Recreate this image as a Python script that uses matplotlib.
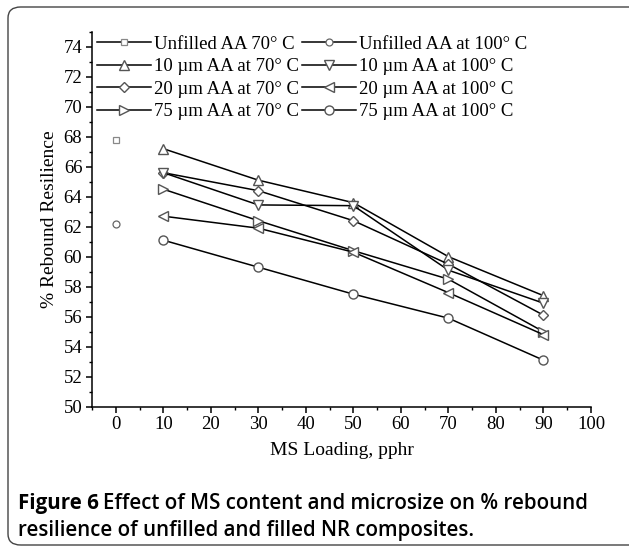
import matplotlib
matplotlib.use("Agg")
import matplotlib.pyplot as plt
from matplotlib.patches import FancyBboxPatch
from matplotlib.ticker import MultipleLocator

# MS loading (pphr)
loading = [10, 30, 50, 70, 90]
unfilled_x = [0]

# % rebound resilience
unfilled_70 = [67.8]
unfilled_100 = [62.2]
um10_70 = [67.2, 65.1, 63.6, 60.0, 57.4]
um10_100 = [65.6, 63.45, 63.4, 59.1, 56.9]
um20_70 = [65.6, 64.4, 62.4, 59.5, 56.1]
um20_100 = [62.7, 61.9, 60.3, 57.6, 54.8]
um75_70 = [64.5, 62.4, 60.4, 58.5, 55.0]
um75_100 = [61.1, 59.3, 57.5, 55.9, 53.1]

labels_70 = ["Unfilled AA 70\u00b0 C", "10 \u00b5m AA at 70\u00b0 C",
             "20 \u00b5m AA at 70\u00b0 C", "75 \u00b5m AA at 70\u00b0 C"]
labels_100 = ["Unfilled AA at 100\u00b0 C", "10 \u00b5m AA at 100\u00b0 C",
              "20 \u00b5m AA at 100\u00b0 C", "75 \u00b5m AA at 100\u00b0 C"]

plt.rcParams["font.family"] = ["Liberation Serif", "DejaVu Serif"]

fig = plt.figure(figsize=(6.29, 5.53), dpi=100)
ax = fig.add_axes([0.1463, 0.2646, 0.7933, 0.6781])

edge = "#555555"
common = dict(color="black", lw=1.1, mfc="white", mec=edge, mew=1.0, ms=6.5)

# column-first order for the 2-column legend
ax.plot(unfilled_x, unfilled_70, marker="s", label=labels_70[0],
        color="black", lw=1.1, mfc="white", mec="#888888", mew=0.9, ms=4.5)
ax.plot(loading, um10_70, marker="^", label=labels_70[1], **common)
ax.plot(loading, um20_70, marker="D", label=labels_70[2], **{**common, "ms": 5.5})
ax.plot(loading, um75_70, marker=">", label=labels_70[3], **common)
ax.plot(unfilled_x, unfilled_100, marker="o", label=labels_100[0],
        color="black", lw=1.1, mfc="white", mec="#666666", mew=0.9, ms=5)
ax.plot(loading, um10_100, marker="v", label=labels_100[1], **common)
ax.plot(loading, um20_100, marker="<", label=labels_100[2], **common)
ax.plot(loading, um75_100, marker="o", label=labels_100[3], **common)

ax.set_xlim(-5, 100)
ax.set_ylim(50, 75)
ax.xaxis.set_major_locator(MultipleLocator(10))
ax.xaxis.set_minor_locator(MultipleLocator(5))
ax.yaxis.set_major_locator(MultipleLocator(2))
ax.yaxis.set_minor_locator(MultipleLocator(1))
ax.spines["top"].set_visible(False)
ax.spines["right"].set_visible(False)
for s in ("left", "bottom"):
    ax.spines[s].set_linewidth(1.1)
ax.tick_params(which="major", direction="out", length=4.5, width=1.1,
               labelsize=13.5, pad=2.5)
ax.tick_params(which="minor", direction="out", length=2.5, width=1.0)

ax.set_xlabel("MS Loading, pphr", fontsize=14, labelpad=6)
ax.set_ylabel("% Rebound Resilience", fontsize=14, labelpad=4)

leg = ax.legend(ncol=2, loc="upper left", bbox_to_anchor=(0.01, 0.99),
                frameon=False, fontsize=13.5, handlelength=2.9,
                handletextpad=0.15, columnspacing=0.15, labelspacing=0.29,
                borderpad=0, borderaxespad=0)

# rounded frame around the figure panel
frame = FancyBboxPatch((8 / 629, 8 / 553), 640 / 629, 538 / 553,
                       boxstyle="round,pad=0,rounding_size=0.02",
                       transform=fig.transFigure, fill=False,
                       edgecolor="#444444", lw=1.0, clip_on=False)
fig.patches.append(frame)

cap_font = ["Open Sans", "DejaVu Sans"]
cap_size = 14.8
t1 = fig.text(18 / 629, 1 - 509 / 553, "Figure 6", family=cap_font,
              fontsize=cap_size, fontweight="bold", va="baseline", ha="left")
fig.canvas.draw()
bb = t1.get_window_extent()
fig.text(bb.x1 / 629 + 0.007, 1 - 509 / 553,
         "Effect of MS content and microsize on % rebound",
         family=cap_font, fontsize=cap_size, fontweight="semibold",
         va="baseline", ha="left")
fig.text(18 / 629, 1 - 536 / 553,
         "resilience of unfilled and filled NR composites.",
         family=cap_font, fontsize=cap_size, fontweight="semibold",
         va="baseline", ha="left")

fig.savefig("out.png", dpi=100)
